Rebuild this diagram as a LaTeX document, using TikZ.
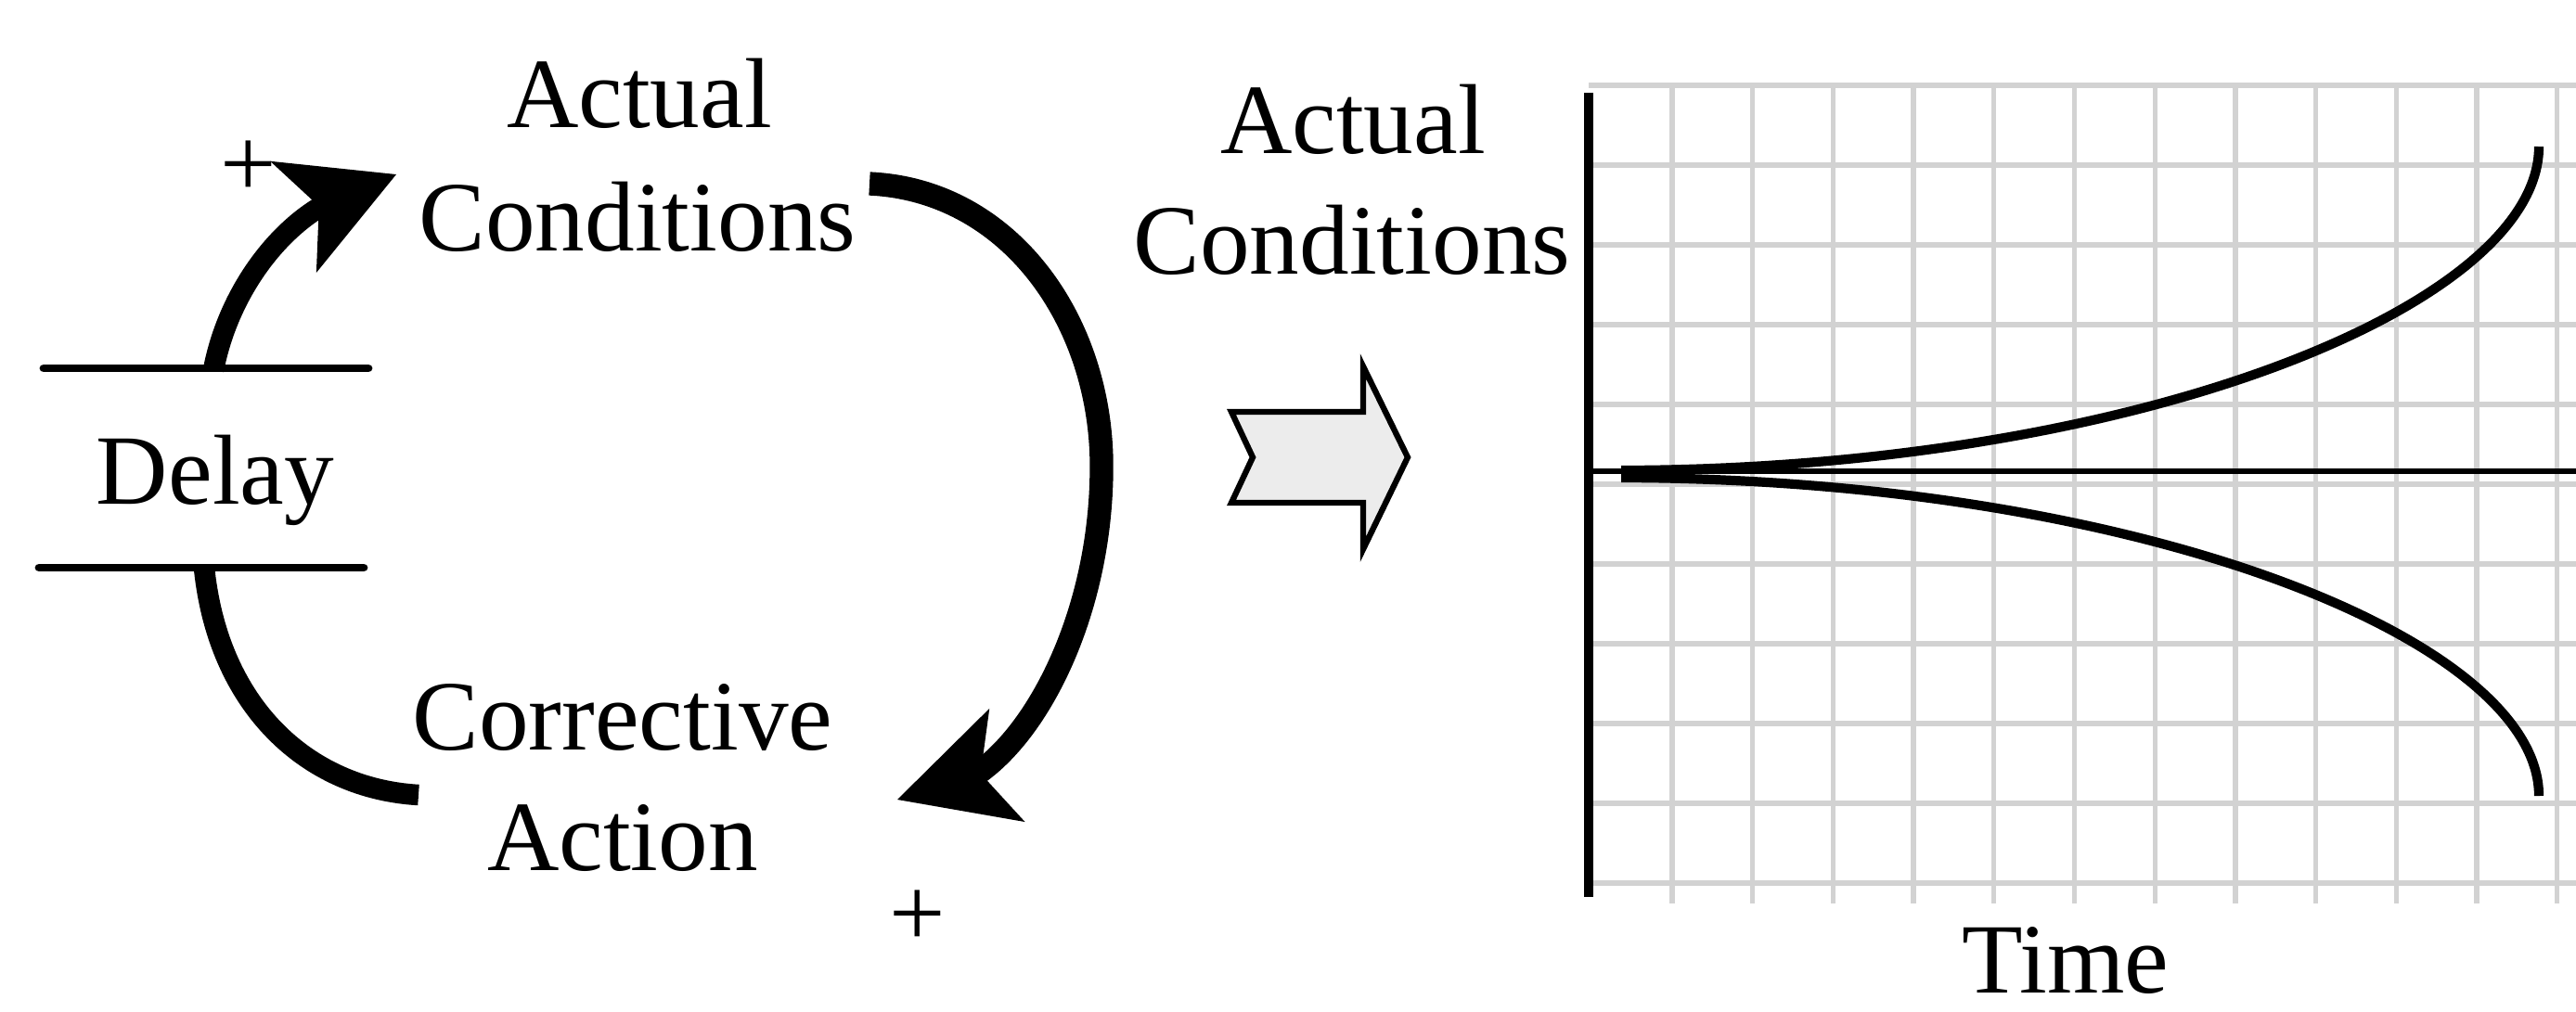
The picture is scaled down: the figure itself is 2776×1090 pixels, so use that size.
\documentclass[tikz,border=0pt]{standalone}
\usepackage{fontspec}
\setmainfont{Liberation Serif}
\usetikzlibrary{arrows.meta}
\definecolor{gridgray}{RGB}{210,210,210}
\definecolor{blockfill}{RGB}{236,236,236}
\begin{document}
\begin{tikzpicture}[x=0.01cm,y=-0.01cm,
  lbl/.style={anchor=base,inner sep=0pt,font=\fontsize{30.5pt}{36pt}\selectfont},
  pluslbl/.style={anchor=center,inner sep=0pt,font=\fontsize{30.5pt}{36pt}\selectfont},
  delayline/.style={line width=2.5pt,line cap=round},
  smalllink/.style={line width=6.4pt,line join=round},
  biglink/.style={line width=7.2pt,line join=round},
  headA/.style={-{Stealth[length=1.2cm,width=1.3cm,inset=0.3cm,line width=0pt]}},
  headB/.style={-{Stealth[length=1.24cm,width=1.28cm,inset=0.3cm,line width=0pt]}},
  gridline/.style={line width=1.5pt,draw=gridgray},
  axisv/.style={line width=3.1pt},
  axish/.style={line width=1.6pt},
  trend/.style={line width=2.9pt},
  blockarrow/.style={line width=1.8pt,line join=miter,fill=blockfill}
]
\useasboundingbox (0,0) rectangle (2776,1090);

% ---------- left: causal loop ----------
\node[lbl] (actL1) at (689,137) {Actual};
\node[lbl] (actL2) at (687,270) {Conditions};
\node[lbl] (delay) at (232,543) {Delay};
\node[lbl] (corr1) at (671,808) {Corrective};
\node[lbl] (corr2) at (671,938) {Action};
\node[pluslbl] (plusA) at (268,182) {+};
\node[pluslbl] (plusB) at (989,990) {+};

% delay marks
\coordinate (dTl) at (47,397);
\coordinate (dTr) at (397,397);
\coordinate (dBl) at (42,612);
\coordinate (dBr) at (392,612);
\draw[delayline] (dTl) -- (dTr);
\draw[delayline] (dBl) -- (dBr);

% arrow: delay -> actual conditions
\coordinate (uStart) at (230,399);
\coordinate (uBack) at (352,219);
\coordinate (uTip) at (427,188);
\draw[smalllink,headA] (uStart) .. controls (245,320) and (295,250) .. (uBack) -- (uTip);

% arrow: actual conditions -> corrective action
\coordinate (rStart) at (937,198);
\coordinate (rMid) at (1187,510);
\coordinate (rBack) at (1050,836);
\coordinate (rTip) at (967,862);
\draw[biglink,headB] (rStart) .. controls (1090,205) and (1190,350) .. (rMid)
  .. controls (1185,660) and (1120,790) .. (rBack) -- (rTip);

% link: corrective action -> delay
\coordinate (lStart) at (451,857);
\coordinate (lEnd) at (220,612);
\draw[smalllink] (lStart) .. controls (330,850) and (235,760) .. (lEnd);

% ---------- middle: block arrow ----------
\draw[blockarrow] (1327,444) -- (1469,444) -- (1469,395) -- (1517,493)
  -- (1469,592) -- (1469,542) -- (1327,542) -- (1350,493) -- cycle;

\node[lbl] (actR1) at (1458,165) {Actual};
\node[lbl] (actR2) at (1457,295) {Conditions};

% ---------- right: graph ----------
\foreach \k in {0,...,10}
  \draw[gridline] (1712,{92+86*\k}) -- (2776,{92+86*\k});
\foreach \k in {0,...,11}
  \draw[gridline] ({1802+86.7*\k},92) -- ({1802+86.7*\k},974);

\coordinate (yTop) at (1712,100);
\coordinate (yBot) at (1712,967);
\coordinate (orig) at (1712,508);
\coordinate (xEnd) at (2776,508);
\draw[axisv] (yTop) -- (yBot);
\draw[axish] (orig) -- (xEnd);

\coordinate (cStartU) at (1747,507);
\coordinate (cStartD) at (1747,515);
\coordinate (cUp) at (2736,158);
\coordinate (cDown) at (2736,858);
\draw[trend] (cStartU) .. controls (2300,506) and (2736,330) .. (cUp);
\draw[trend] (cStartD) .. controls (2300,516) and (2736,688) .. (cDown);

\node[lbl] (time) at (2226,1070) {Time};
\end{tikzpicture}
\end{document}
